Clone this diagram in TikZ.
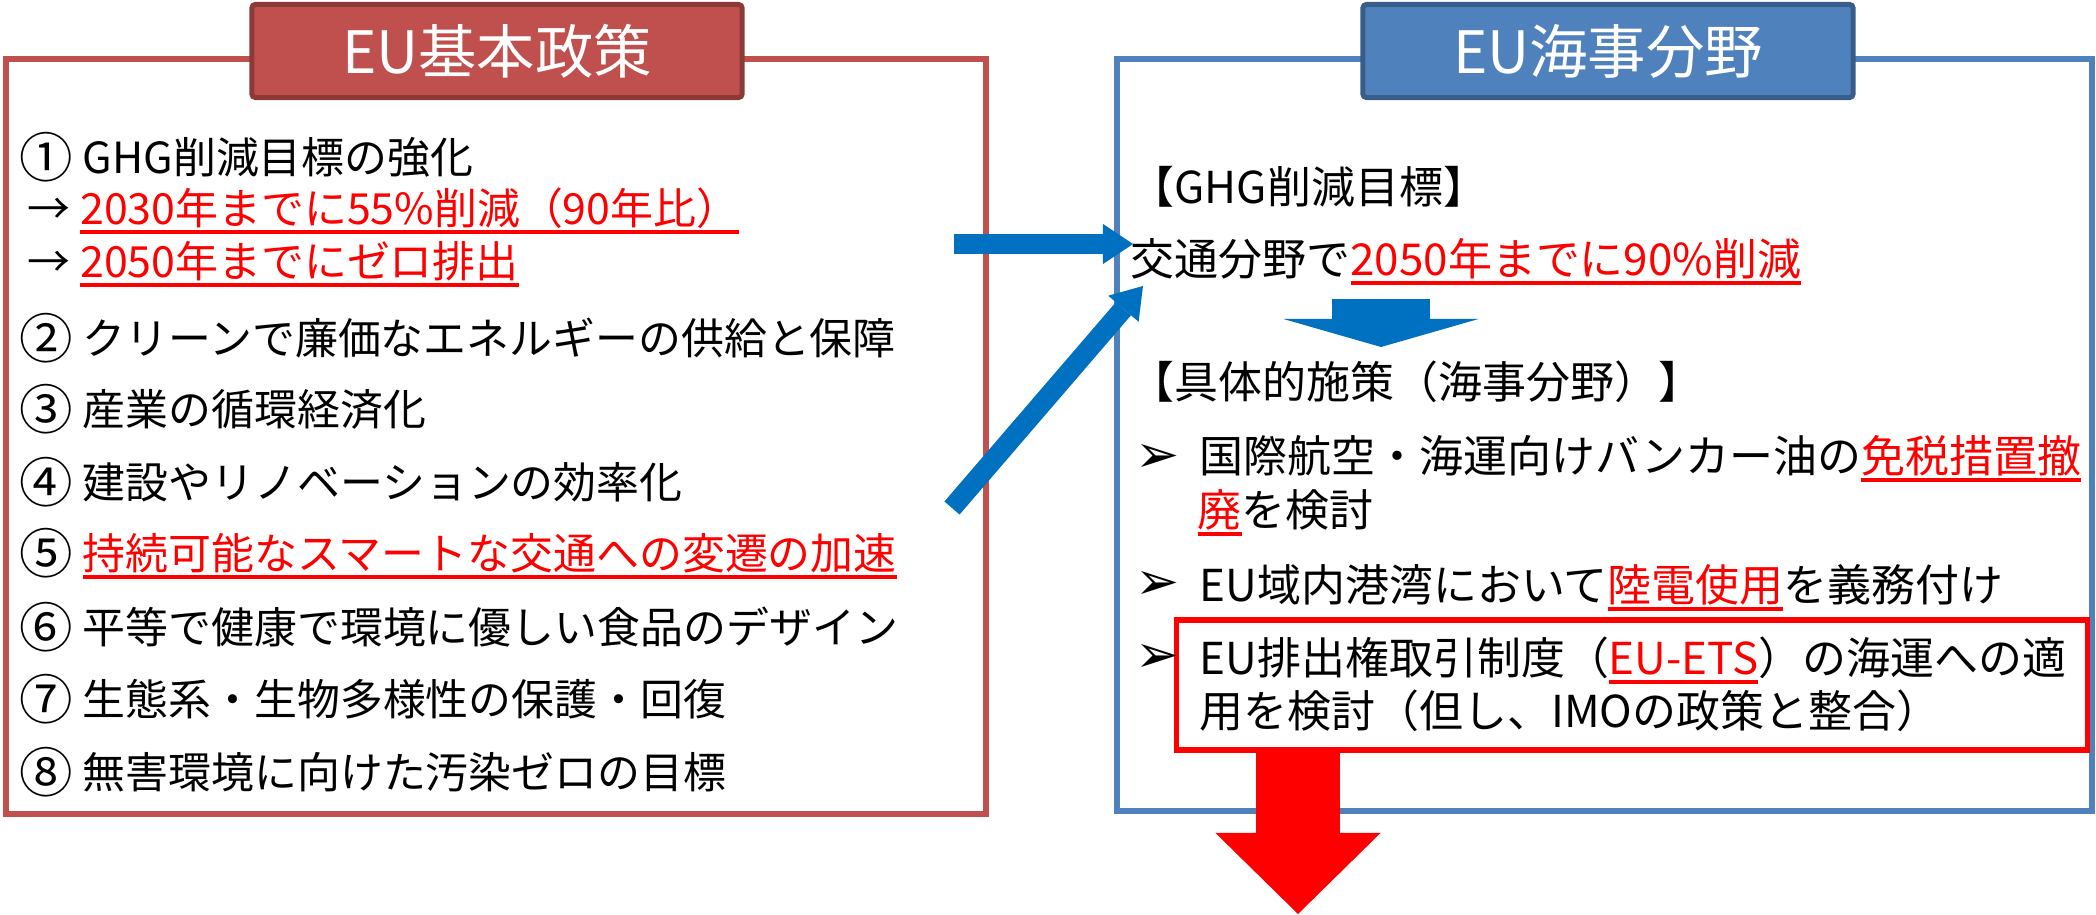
\documentclass[tikz,border=0pt]{standalone}
\usepackage{fontspec}
\setmainfont{Noto Sans CJK JP}
\newfontfamily\dejavu{DejaVu Sans}
\usetikzlibrary{arrows.meta}
\definecolor{polred}{HTML}{C0504D}
\definecolor{poldark}{HTML}{8C3A37}
\definecolor{marblue}{HTML}{4F81BD}
\definecolor{mardark}{HTML}{385D8A}
\definecolor{arrblue}{HTML}{0070C0}
\newcommand\redul[1]{\textcolor{red}{\sbox0{#1}\rlap{\rule[-.23em]{\wd0}{.09em}}\usebox0}}
\newcommand\cnum[1]{\raisebox{-.1em}{\fontsize{15.2}{16}\selectfont #1}}

\begin{document}
\begin{tikzpicture}[x=0.01cm, y=-0.01cm,
    txt/.style={anchor=base west, inner sep=0pt, font=\fontsize{12.2}{14}\selectfont},
    rtxt/.style={anchor=base west, inner sep=0pt, font=\fontsize{12.5}{15}\selectfont},
    bulletmark/.style={anchor=west, inner sep=0pt, font=\dejavu\fontsize{15}{16}\selectfont},
    outerbox/.style={line width=0.06cm},
    headbox/.style={line width=0.05cm, rounded corners=1pt, minimum width=4.9cm, minimum height=0.93cm, inner sep=0pt, text=white, font=\fontsize{16.6}{18}\selectfont},
    etsbox/.style={draw=red, line width=0.055cm, inner sep=0pt},
    bluearrow/.style={arrblue, line width=0.2cm, -{Triangle[width=0.4cm, length=0.3cm, line width=0pt]}}]
    \useasboundingbox (0,0) rectangle (2096,915);

    \draw[outerbox, polred] (6,59) rectangle (986,814);
    \draw[outerbox, marblue] (1117,59) rectangle (2092,811);
    \node(pol)[headbox, fill=polred, draw=poldark] at (497,51) {EU基本政策};
    \node(mar)[headbox, fill=marblue, draw=mardark] at (1608,51) {EU海事分野};

    \node(p1)[txt] at (19,173) {\cnum{①} GHG削減目標の強化};
    \node(p1a)[txt] at (27,224) {→ \redul{2030年までに55\%削減（90年比）}};
    \node(p1b)[txt] at (27,277) {→ \redul{2050年までにゼロ排出}};
    \node(p2)[txt] at (19,354) {\cnum{②} クリーンで廉価なエネルギーの供給と保障};
    \node(p3)[txt] at (19,425) {\cnum{③} 産業の循環経済化};
    \node(p4)[txt] at (19,498) {\cnum{④} 建設やリノベーションの効率化};
    \node(p5)[txt] at (19,569) {\cnum{⑤} \redul{持続可能なスマートな交通への変遷の加速}};
    \node(p6)[txt] at (19,643) {\cnum{⑥} 平等で健康で環境に優しい食品のデザイン};
    \node(p7)[txt] at (19,715) {\cnum{⑦} 生態系・生物多様性の保護・回復};
    \node(p8)[txt] at (19,788) {\cnum{⑧} 無害環境に向けた汚染ゼロの目標};

    \node(goalhd)[rtxt] at (1130,203) {【GHG削減目標】};
    \node(goal)[rtxt] at (1130,275) {交通分野で\redul{2050年までに90\%削減}};
    \node(meashd)[rtxt] at (1130,398) {【具体的施策（海事分野）】};
    \node(b1)[bulletmark] at (1135,458) {➢};
    \node(m1)[rtxt] at (1199,472) {国際航空・海運向けバンカー油の\redul{免税措置撤}};
    \node(m1b)[rtxt] at (1197,526) {\redul{廃}を検討};
    \node(b2)[bulletmark] at (1135,585) {➢};
    \node(m2)[rtxt] at (1199,601) {EU域内港湾において\redul{陸電使用}を義務付け};
    \node(ets)[etsbox, minimum width=9.1cm, minimum height=1.3cm] at (1632,685) {};
    \node(b3)[bulletmark] at (1135,658) {➢};
    \node(m3)[rtxt] at (1199,674) {EU排出権取引制度（\redul{EU-ETS}）の海運への適};
    \node(m3b)[rtxt] at (1199,727) {用を検討（但し、IMOの政策と整合）};

    \coordinate(h1) at (954,244);
    \coordinate(h2) at (1133,244);
    \coordinate(d1) at (952,508);
    \coordinate(d2) at (1143,286);
    \coordinate(g1) at (1381,299);
    \coordinate(g2) at (1381,347);
    \coordinate(r2) at (1298,914);
    \draw[bluearrow] (h1) -- (h2);
    \draw[bluearrow] (d1) -- (d2);
    \draw[arrblue, line width=0.98cm, -{Triangle[width=1.95cm, length=0.28cm, line width=0pt]}] (g1) -- (g2);
    \draw[red, line width=0.83cm, -{Triangle[width=1.65cm, length=0.81cm, line width=0pt]}] (ets.south -| r2) -- (r2);
\end{tikzpicture}
\end{document}
